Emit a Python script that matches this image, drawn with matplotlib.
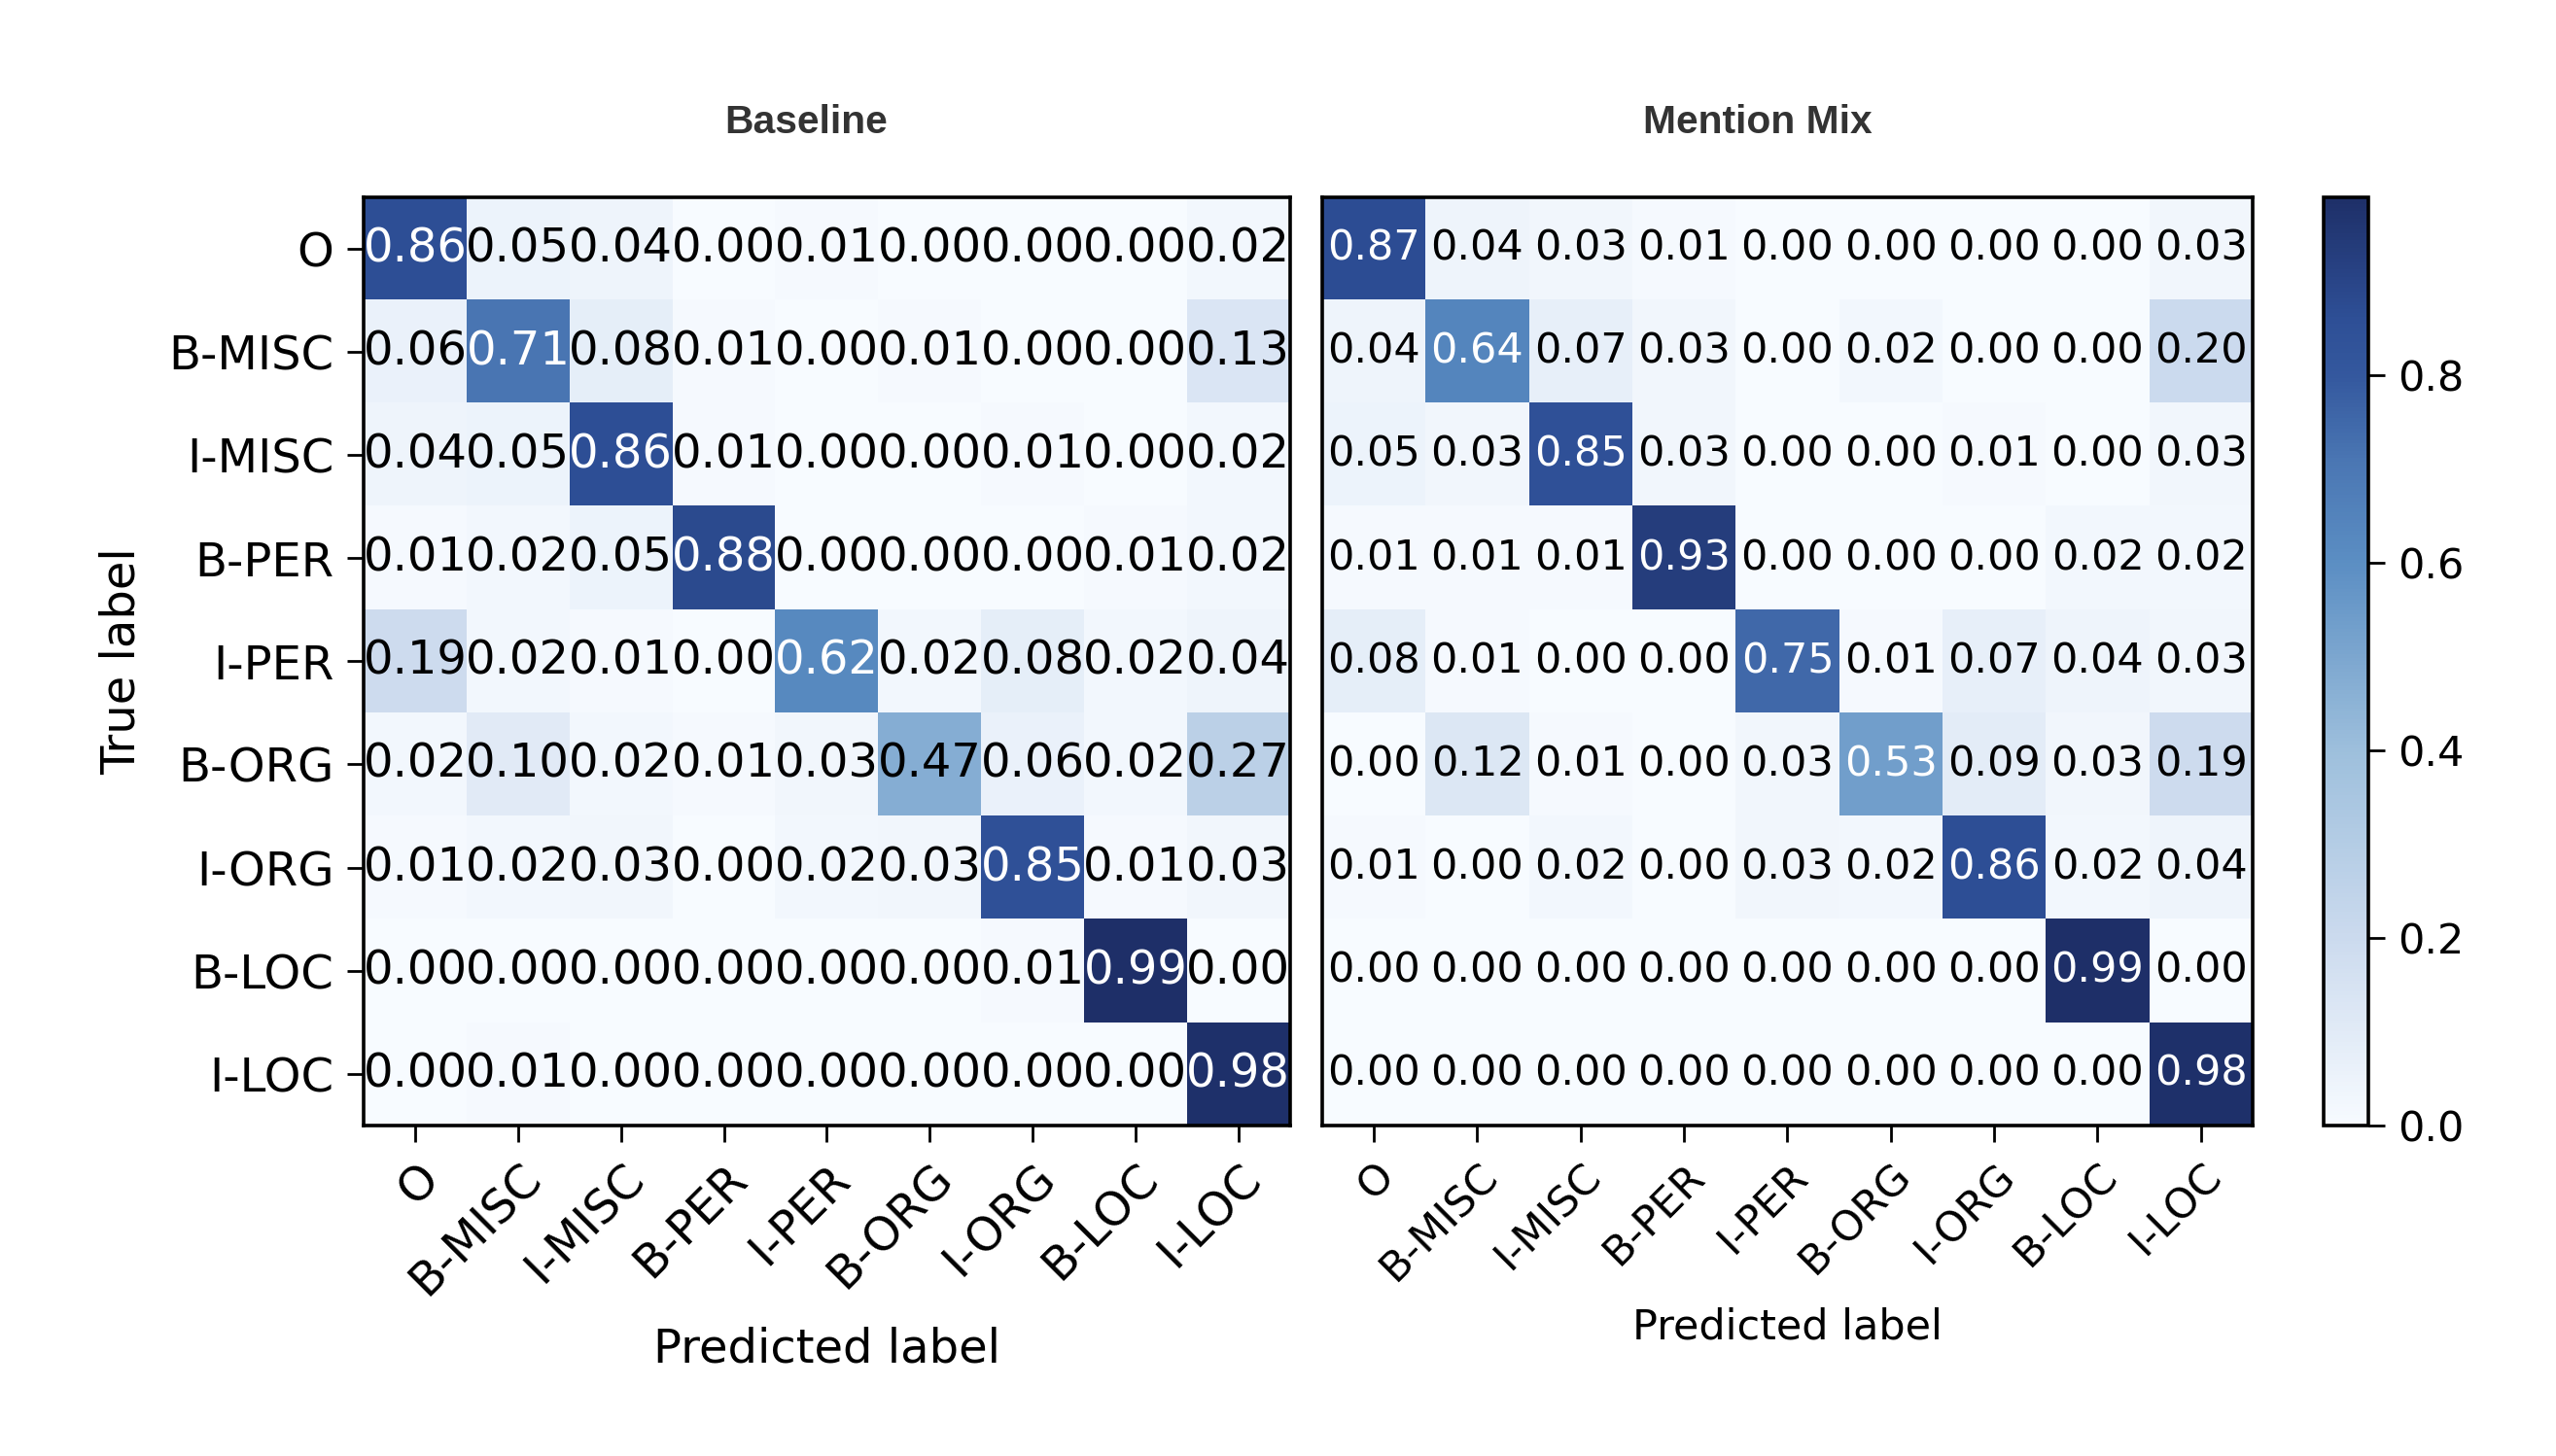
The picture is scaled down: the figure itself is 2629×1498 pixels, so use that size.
import numpy as np
from matplotlib import pyplot as plt
from matplotlib.colors import Normalize, LinearSegmentedColormap


labels = ['O', 'B-MISC', 'I-MISC', 'B-PER', 'I-PER', 'B-ORG', 'I-ORG', 'B-LOC', 'I-LOC']

# rows = true label, cols = predicted label
baseline = [
    [0.86, 0.05, 0.04, 0.00, 0.01, 0.00, 0.00, 0.00, 0.02],
    [0.06, 0.71, 0.08, 0.01, 0.00, 0.01, 0.00, 0.00, 0.13],
    [0.04, 0.05, 0.86, 0.01, 0.00, 0.00, 0.01, 0.00, 0.02],
    [0.01, 0.02, 0.05, 0.88, 0.00, 0.00, 0.00, 0.01, 0.02],
    [0.19, 0.02, 0.01, 0.00, 0.62, 0.02, 0.08, 0.02, 0.04],
    [0.02, 0.10, 0.02, 0.01, 0.03, 0.47, 0.06, 0.02, 0.27],
    [0.01, 0.02, 0.03, 0.00, 0.02, 0.03, 0.85, 0.01, 0.03],
    [0.00, 0.00, 0.00, 0.00, 0.00, 0.00, 0.01, 0.99, 0.00],
    [0.00, 0.01, 0.00, 0.00, 0.00, 0.00, 0.00, 0.00, 0.98],
]

mention_mix = [
    [0.87, 0.04, 0.03, 0.01, 0.00, 0.00, 0.00, 0.00, 0.03],
    [0.04, 0.64, 0.07, 0.03, 0.00, 0.02, 0.00, 0.00, 0.20],
    [0.05, 0.03, 0.85, 0.03, 0.00, 0.00, 0.01, 0.00, 0.03],
    [0.01, 0.01, 0.01, 0.93, 0.00, 0.00, 0.00, 0.02, 0.02],
    [0.08, 0.01, 0.00, 0.00, 0.75, 0.01, 0.07, 0.04, 0.03],
    [0.00, 0.12, 0.01, 0.00, 0.03, 0.53, 0.09, 0.03, 0.19],
    [0.01, 0.00, 0.02, 0.00, 0.03, 0.02, 0.86, 0.02, 0.04],
    [0.00, 0.00, 0.00, 0.00, 0.00, 0.00, 0.00, 0.99, 0.00],
    [0.00, 0.00, 0.00, 0.00, 0.00, 0.00, 0.00, 0.00, 0.98],
]

titles = ['Baseline', 'Mention Mix']
cbar_ticks = [0.0, 0.2, 0.4, 0.6, 0.8]

# Blues, a bit washed out like the original picture
cmap = LinearSegmentedColormap.from_list('washed_blues', [
    (0.000, '#f7fbff'),
    (0.202, '#cbdaee'),
    (0.404, '#9dbfdc'),
    (0.606, '#5b8ec3'),
    (0.717, '#4a76b3'),
    (0.808, '#34589e'),
    (0.870, '#2e4f96'),
    (1.000, '#1e2f68'),
])


def draw_cm(ax, cm, norm, fs, show_y, xpad):
    cm = np.asarray(cm)
    im = ax.imshow(cm, cmap=cmap, norm=norm, interpolation='nearest', aspect='auto')
    thresh = (norm.vmax + norm.vmin) / 2.0
    for i in range(cm.shape[0]):
        for j in range(cm.shape[1]):
            color = 'white' if cm[i, j] > thresh else 'black'
            ax.text(j, i, f'{cm[i, j]:.2f}', ha='center', va='center',
                    color=color, fontsize=fs)

    n = len(labels)
    ax.set_xticks(range(n))
    ax.set_xticklabels(labels, rotation=45, ha='right', rotation_mode='anchor',
                       fontsize=fs)
    ax.set_xlabel('Predicted label', fontsize=fs, labelpad=xpad)
    if show_y:
        ax.set_yticks(range(n))
        ax.set_yticklabels(labels, fontsize=fs)
        ax.set_ylabel('True label', fontsize=fs, labelpad=9)
    else:
        ax.set_yticks([])
    ax.tick_params(length=6, width=1.0, pad=5)
    for s in ax.spines.values():
        s.set_linewidth(1.3)
    return im


fig = plt.figure(figsize=(13.145, 7.49), dpi=200)

ax1 = fig.add_axes([0.1423, 0.227, 0.3623, 0.6378])
ax2 = fig.add_axes([0.5173, 0.227, 0.3640, 0.6378])
cax = fig.add_axes([0.9092, 0.227, 0.0173, 0.6378])

norm = Normalize(vmin=0.0, vmax=0.99)

draw_cm(ax1, baseline, norm, 17.3, True, 8)
im = draw_cm(ax2, mention_mix, norm, 15.5, False, 6.8)

cb = fig.colorbar(im, cax=cax, ticks=cbar_ticks)
cb.ax.tick_params(labelsize=15.5, length=6, width=1.0, pad=5)
cb.outline.set_linewidth(1.3)

title_font = dict(fontsize=14.7, fontweight='bold', color='#333333',
                  family='Liberation Sans', ha='center', va='center')
fig.text(0.3154, 0.916, titles[0], **title_font)
fig.text(0.6878, 0.916, titles[1], **title_font)

fig.savefig('out.png', dpi=200, facecolor='white')
